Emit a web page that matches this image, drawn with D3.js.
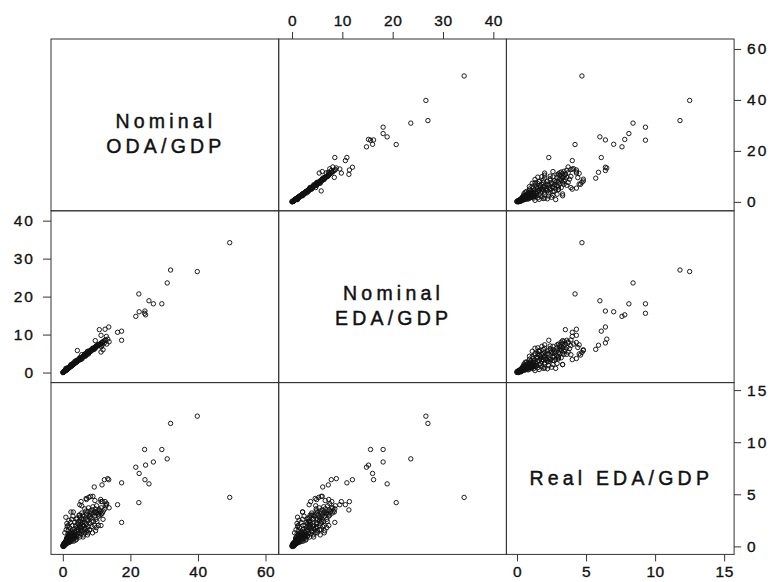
<!DOCTYPE html>
<html><head><meta charset="utf-8">
<script src="https://cdn.jsdelivr.net/npm/d3@7"></script>
<style>body{margin:0;background:#fff}svg{display:block}</style>
</head><body><svg id="c" width="774" height="582"></svg>
<script>
// variable labels (diagonal panels)
const varLabels = [["Nominal", "ODA/GDP"], ["Nominal", "EDA/GDP"], ["Real EDA/GDP"]];
// tick labels
const odaTicks = [0, 20, 40, 60];
const edaTicks = [0, 10, 20, 30, 40];
const edaTopTicks = [0, 10, 20, 30, 40];
const realTicks = [0, 5, 10, 15];

// observations: nominal ODA/GDP, nominal EDA/GDP, real EDA/GDP (same order)
const oda = [
  49.4,39.8,31.9,30.9,29.3,26.8,25.5,22.5,24.2,24.5,
  24.3,22.6,21.6,17.4,17.4,16.2,13.6,13.3,12.3,11.6,
  9.3,8.2,12.5,10.8,4.3,11.3,12.9,13.7,13.0,11.3,
  9.6,11.4,9.7,0.9,11.9,6.9,7.7,8.9,9.5,11.2,
  11.7,12.7,8.8,9.9,7.3,10.5,5.6,5.0,5.4,7.0,
  3.1,7.9,6.0,8.5,
  0.1,0.2,0.3,0.3,0.4,0.5,0.5,0.6,0.7,0.7,
  0.8,0.8,0.9,1.0,1.0,1.1,1.2,1.2,1.3,1.4,
  1.4,1.5,1.6,1.7,1.7,1.8,1.9,2.0,2.0,2.1,
  2.2,2.3,2.4,2.5,2.6,2.7,2.8,2.9,3.0,0.2,
  0.4,0.6,0.9,1.1,1.3,1.5,1.8,2.2,2.5,0.0,
  0.1,0.3,
  1.2,1.5,1.8,2.0,2.3,2.6,1.0,1.6,2.8,3.0,
  2.4,1.3,0.6,
  3.2,3.3,3.4,3.5,3.6,3.7,3.8,3.9,4.0,4.1,
  4.2,4.3,4.4,4.5,4.6,4.7,4.8,4.9,5.0,5.1,
  5.2,5.3,5.4,5.5,5.6,5.7,5.8,5.9,6.0,6.1,
  6.2,6.3,6.4,6.5,6.6,6.7,6.8,6.9,7.0,7.2,
  7.4,7.6,7.8,8.0,4.0,5.0,3.5,
  7.0,7.4,7.8,8.1,8.4,8.7,9.0,9.3,9.6,9.9,
  10.2,10.5,10.8,11.1,11.4,11.7,12.0,12.4,8.9,10.0,
  9.5,11.0,7.6,8.2,
  0.2,0.4,0.6,0.8,1.0,1.2,1.4,1.6,1.8,2.0,
  2.2,2.4,2.6,2.8,3.0,3.2,3.4,3.6,3.8,4.0,
  4.2,4.6,5.1,5.5,5.9,6.3,6.8,7.1,7.5,8.0,
  8.3,8.6,9.1,9.4,9.8,10.1,10.6,6.5,5.3,4.8
];
const eda = [
  34.2,26.6,27.0,23.6,18.1,18.1,18.9,20.7,15.6,15.2,
  16.2,16.0,14.8,10.9,8.5,10.6,12.0,8.8,7.8,7.2,
  6.1,5.8,11.4,11.3,5.8,9.8,9.5,8.1,7.5,5.4,
  8.4,6.8,6.5,1.1,6.0,4.6,5.3,6.0,6.6,7.3,
  7.9,8.6,6.4,6.9,5.6,7.3,4.7,3.4,3.7,4.9,
  2.1,5.5,4.3,5.9,
  0.1,0.1,0.2,0.2,0.3,0.3,0.4,0.4,0.5,0.5,
  0.5,0.6,0.6,0.7,0.7,0.8,0.8,0.9,0.9,1.0,
  0.9,1.1,1.1,1.2,1.2,1.3,1.3,1.4,1.4,1.5,
  1.5,1.6,1.7,1.7,1.8,1.9,1.9,2.0,2.1,0.2,
  0.2,0.5,0.7,0.7,1.0,1.0,1.2,1.6,1.8,0.0,
  0.0,0.3,
  1.0,1.2,1.4,1.5,1.8,2.1,0.8,1.3,2.2,2.4,
  2.1,1.1,0.5,
  2.2,2.3,2.4,2.4,2.5,2.6,2.6,2.7,2.8,2.8,
  2.9,3.0,3.1,3.1,3.2,3.3,3.3,3.4,3.5,3.5,
  3.9,3.7,3.7,3.8,3.9,3.6,4.0,4.1,4.2,4.2,
  4.3,4.4,4.5,4.9,4.6,4.3,4.7,4.8,4.9,5.0,
  5.5,4.9,5.4,5.5,3.2,3.9,2.9,
  4.9,5.1,5.3,5.6,5.8,6.0,6.2,6.4,6.6,6.8,
  7.0,7.2,7.4,7.6,7.8,8.0,8.2,8.5,6.3,7.1,
  6.5,7.5,5.4,5.9,
  0.2,0.3,0.4,0.6,0.6,0.9,1.0,1.2,1.2,1.5,
  1.6,1.6,1.9,2.1,2.2,2.2,2.5,2.6,2.7,3.0,
  3.1,3.4,3.4,4.0,4.2,4.3,4.9,5.1,5.0,5.7,
  5.6,6.1,6.3,6.4,6.9,7.0,7.3,4.8,3.5,3.6
];
const real = [
  4.7,12.5,11.8,8.4,9.3,8.1,6.0,4.2,9.3,7.8,
  6.4,7.0,7.6,6.1,2.3,4.0,6.4,6.5,6.4,5.9,
  5.7,4.8,4.3,3.5,1.6,4.3,4.0,3.7,4.1,2.0,
  3.3,3.1,1.5,2.8,2.6,4.6,4.7,4.8,4.4,4.5,
  4.3,3.9,1.3,1.8,1.1,2.0,3.9,4.0,4.3,4.5,
  3.3,1.6,0.9,2.4,
  0.0,0.1,0.1,0.2,0.1,0.2,0.3,0.2,0.3,0.4,
  0.3,0.5,0.4,0.3,0.6,0.5,0.4,0.7,0.5,0.6,
  0.9,0.5,0.8,0.6,1.0,0.7,0.9,0.6,1.1,0.8,
  1.0,0.7,1.2,0.9,1.1,0.8,1.3,1.0,1.2,0.2,
  0.3,0.1,0.2,0.8,0.3,1.2,0.4,0.5,1.4,0.1,
  0.0,0.0,
  2.2,2.0,2.5,1.8,2.3,2.6,1.6,1.5,2.0,2.9,
  3.3,1.9,1.3,
  0.8,1.4,1.0,1.7,0.9,1.3,2.0,1.1,1.5,0.7,
  1.8,1.2,2.2,1.0,1.6,2.4,1.3,1.9,0.9,2.8,
  1.5,2.1,1.2,1.7,3.2,2.3,1.4,1.9,2.6,1.1,
  2.0,2.9,1.6,2.3,1.3,2.7,1.8,3.4,2.1,1.5,
  2.5,1.9,2.8,1.6,2.6,3.0,2.3,
  3.1,3.3,3.0,3.4,3.2,3.5,3.1,3.3,3.6,3.2,
  3.4,3.1,3.5,3.3,3.7,3.2,3.4,3.6,3.8,3.9,
  2.9,3.0,3.7,2.9,
  0.1,0.3,0.2,0.2,0.4,0.3,0.7,0.4,1.1,0.4,
  1.3,0.6,0.5,1.6,0.7,0.5,1.1,0.8,0.6,1.0,
  2.7,2.1,1.8,2.6,3.0,1.7,2.2,2.6,1.3,2.2,
  2.7,1.9,2.4,2.0,2.6,2.4,2.9,3.6,2.4,3.0
];

const vars = [oda, eda, real];
const domains = [[-3.5, 63.9], [-2.65, 42.6], [-0.77, 15.72]];
const X0 = 51, Y0 = 39, CW = 227.7, CH = 171.8;
const n = Math.min(oda.length, eda.length, real.length);
const idx = d3.range(n);

const svg = d3.select("#c");
const xS = d3.range(3).map(j => d3.scaleLinear().domain(domains[j]).range([X0 + j * CW, X0 + (j + 1) * CW]));
const yS = d3.range(3).map(i => d3.scaleLinear().domain(domains[i]).range([Y0 + (i + 1) * CH, Y0 + i * CH]));

const font = "'Liberation Sans', Arial, Helvetica, sans-serif";

for (let i = 0; i < 3; i++) {
  for (let j = 0; j < 3; j++) {
    const g = svg.append("g");
    if (i === j) {
      const lines = varLabels[i];
      const cx = X0 + (j + 0.5) * CW;
      const base = lines.length === 2 ? [89.3, 114.3] : [102.4];
      lines.forEach((t, k) => {
        g.append("text").attr("x", cx + 1).attr("y", Y0 + i * CH + base[k])
          .attr("text-anchor", "middle").attr("font-family", font)
          .attr("font-size", 19.5).attr("letter-spacing", "4.2px")
          .attr("fill", "#111").attr("stroke", "#111").attr("stroke-width", 0.45)
          .text(t);
      });
    } else {
      g.selectAll("circle").data(idx).join("circle")
        .attr("cx", k => xS[j](vars[j][k]))
        .attr("cy", k => yS[i](vars[i][k]))
        .attr("r", 2.2).attr("fill", "none")
        .attr("stroke", "#111").attr("stroke-width", 0.95);
    }
  }
}

// panel frames
for (let i = 0; i < 3; i++) for (let j = 0; j < 3; j++) {
  svg.append("rect").attr("x", X0 + j * CW).attr("y", Y0 + i * CH)
    .attr("width", CW).attr("height", CH)
    .attr("fill", "none").attr("stroke", "#333").attr("stroke-width", 1);
}

function styleAxis(sel, fs, ls) {
  sel.select(".domain").remove();
  sel.selectAll(".tick line").attr("stroke", "#333");
  sel.selectAll(".tick text").attr("font-family", font).attr("font-size", fs)
    .attr("fill", "#111").attr("stroke", "#111").attr("stroke-width", 0.35)
    .attr("letter-spacing", ls);
}

// bottom axes: column 1 (ODA) and column 3 (Real EDA)
svg.append("g").attr("transform", `translate(0,${Y0 + 3 * CH})`)
  .call(d3.axisBottom(xS[0]).tickValues(odaTicks).tickSize(7).tickPadding(5).tickSizeOuter(0))
  .call(s => styleAxis(s, 15.5, "0.5px"));
svg.append("g").attr("transform", `translate(0,${Y0 + 3 * CH})`)
  .call(d3.axisBottom(xS[2]).tickValues(realTicks).tickSize(7).tickPadding(5).tickSizeOuter(0))
  .call(s => styleAxis(s, 15.5, "0.5px"));
// top axis: column 2 (EDA)
svg.append("g").attr("transform", `translate(0,${Y0})`)
  .call(d3.axisTop(xS[1]).tickValues(edaTopTicks).tickSize(7).tickPadding(6).tickSizeOuter(0))
  .call(s => styleAxis(s, 15.5, "0.5px"));
// right axes: rows 1 and 3
svg.append("g").attr("transform", `translate(${X0 + 3 * CW},0)`)
  .call(d3.axisRight(yS[0]).tickValues(odaTicks).tickSize(7).tickPadding(6).tickSizeOuter(0))
  .call(s => styleAxis(s, 15.5, "2px"));
svg.append("g").attr("transform", `translate(${X0 + 3 * CW},0)`)
  .call(d3.axisRight(yS[2]).tickValues(realTicks).tickSize(7).tickPadding(6).tickSizeOuter(0))
  .call(s => styleAxis(s, 15.5, "2px"));
// left axis: row 2
svg.append("g").attr("transform", `translate(${X0},0)`)
  .call(d3.axisLeft(yS[1]).tickValues(edaTicks).tickSize(8).tickPadding(8).tickSizeOuter(0))
  .call(s => styleAxis(s, 15.5, "2px"));
</script>
</body></html>
